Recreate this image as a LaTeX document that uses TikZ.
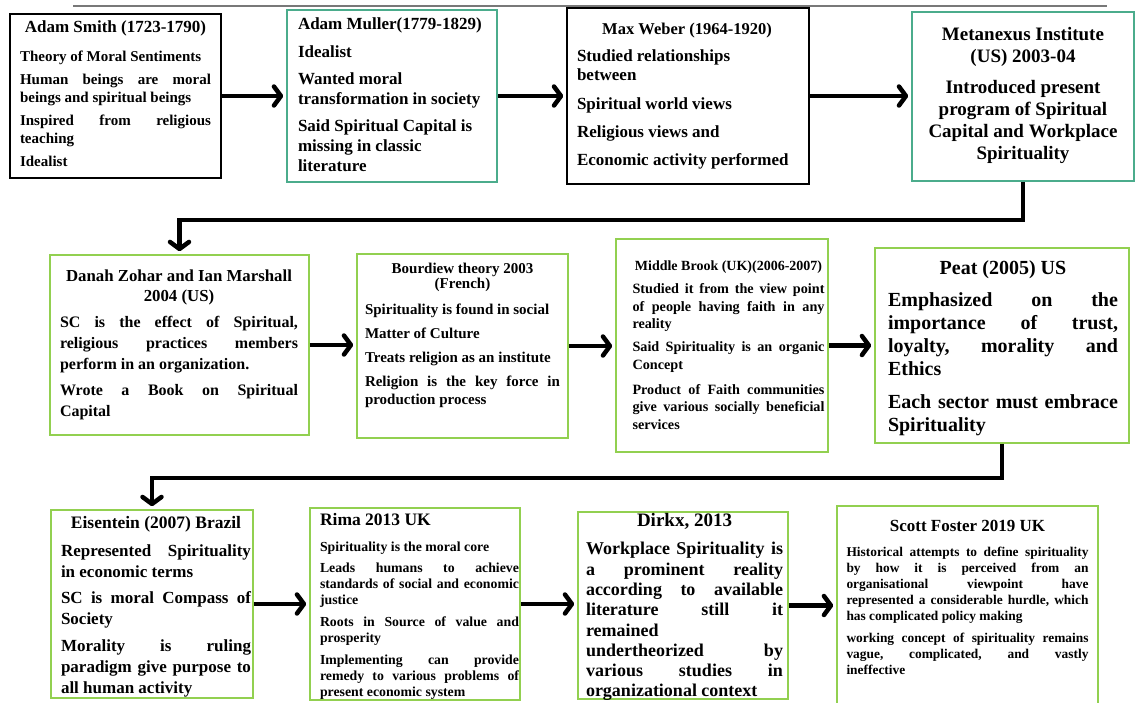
\documentclass[tikz,border=0pt]{standalone}
\usepackage{fontspec}
\setmainfont{Liberation Serif}
\usetikzlibrary{arrows.meta,fit}
\setlength\parindent{0pt}
\hyphenpenalty=10000 \exhyphenpenalty=10000 \tolerance=10000 \hbadness=10000
\definecolor{teal1}{RGB}{75,172,140}
\definecolor{green1}{RGB}{146,208,80}
\definecolor{gray1}{RGB}{120,120,120}
\newcommand\paragap[1]{\par\vspace{#1pt}}
\newcommand\juston{\leftskip=0pt\rightskip=0pt\parfillskip=0pt plus 1fil\parindent=0pt\frenchspacing\relax}
\newcommand\tb[4]{\begin{minipage}{#1}\juston\bfseries\fontsize{#2}{#3}\selectfont #4\par\end{minipage}}
\tikzset{
 boxk/.style={draw=black, line width=1.5pt, inner sep=0pt},
 boxt/.style={draw=teal1, line width=1.6pt, inner sep=0pt},
 boxg/.style={draw=green1, line width=1.6pt, inner sep=0pt},
 txt/.style={anchor=north, inner sep=0pt},
 arr/.style={line width=4.5pt, -{Straight Barb[length=7pt,width=19pt,round]}, shorten >=3pt},
}
\begin{document}
\begin{tikzpicture}[x=1pt,y=-1pt]
\useasboundingbox (0,0) rectangle (1136,702);
% stray top line
\coordinate (tl1) at (73,6);
\coordinate (tl2) at (1107,6);
\draw[gray1, line width=1.5pt] (tl1) -- (tl2);
% boxes
\node[boxk, fit={(10,14) (221,178)}] (b1) {};
\node[boxt, fit={(287,10) (497,182)}] (b2) {};
\node[boxk, fit={(567,8) (809,184)}] (b3) {};
\node[boxt, fit={(912,12) (1134,181)}] (b4) {};
\node[boxg, fit={(50,255) (309,435)}] (b5) {};
\node[boxg, fit={(357,254) (568,438)}] (b6) {};
\node[boxg, fit={(616,239) (828,452)}] (b7) {};
\node[boxg, fit={(875,248) (1129,443)}] (b8) {};
\node[boxg, fit={(51,510) (253,698)}] (b9) {};
\node[boxg, fit={(310,508) (520,700)}] (b10) {};
\node[boxg, fit={(578,512) (788,699)}] (b11) {};
\node[boxg, fit={(837,506) (1098,708)}] (b12) {};
% texts
\node[txt] (t1) at (115.5,21) {\tb{191pt}{15}{17.5}
 {{\centering\fontsize{17}{20}\selectfont Adam Smith (1723-1790)\par}\paragap{11.5}Theory of Moral Sentiments\paragap{5.5}Human beings are moral\linebreak beings and spiritual beings\paragap{6}Inspired from religious\linebreak teaching\paragap{6}Idealist}};
\node[txt] (t2) at (393,18) {\tb{190pt}{17}{20}
 {Adam Muller(1779-1829)\paragap{8}Idealist\paragap{7}Wanted moral\\ transformation in society\paragap{7}Said Spiritual Capital is\\ missing in classic\\ literature}};
\node[txt] (t3) at (687,23) {\tb{220pt}{17}{19}
 {{\centering\fontsize{16.5}{19}\selectfont Max Weber (1964-1920)\par}\paragap{8}Studied relationships\\ between\paragap{9.5}Spiritual world views\paragap{9}Religious views and\paragap{9}Economic activity performed}};
\node[txt] (t4) at (1023,27.5) {\tb{210pt}{19}{22}
 {\centering Metanexus Institute\\ (US) 2003-04\paragap{9}Introduced present\\ program of Spiritual\\ Capital and Workplace\\ Spirituality}};
\node[txt] (t5) at (179,270) {\tb{238pt}{16}{21}
 {{\centering\fontsize{16.8}{20}\selectfont Danah Zohar and Ian Marshall\\ 2004 (US)\par}\paragap{5}SC is the effect of Spiritual,\linebreak religious practices members\linebreak perform in an organization.\paragap{5}Wrote a Book on Spiritual\linebreak Capital}};
\node[txt] (t6) at (462.5,262.5) {\tb{195pt}{15}{18}
 {{\centering\fontsize{15}{15.5}\selectfont Bourdiew theory 2003\\ (French)\par}\paragap{8}Spirituality is found in social\paragap{6}Matter of Culture\paragap{6}Treats religion as an institute\paragap{6}Religion is the key force in\linebreak production process}};
\node[txt] (t7) at (728.5,261) {\tb{192pt}{14.2}{17.5}
 {{\centering\fontsize{14}{17}\selectfont Middle Brook (UK)(2006-2007)\par}\paragap{5.5}Studied it from the view point\linebreak of people having faith in any\linebreak reality\paragap{5.5}Said Spirituality is an organic\linebreak Concept\paragap{7.5}Product of Faith communities\linebreak give various socially beneficial\linebreak services}};
\node[txt] (t8) at (1003,260) {\tb{230pt}{20}{23}
 {{\centering Peat (2005) US\par}\paragap{9}Emphasized on the\linebreak importance of trust,\linebreak loyalty, morality and\linebreak Ethics\paragap{10}Each sector must embrace\linebreak Spirituality}};
\node[txt] (t9) at (156,516) {\tb{190pt}{17}{21}
 {{\centering\fontsize{17.5}{20}\selectfont Eisentein (2007) Brazil\par}\paragap{7}Represented Spirituality\linebreak in economic terms\paragap{5}SC is moral Compass of\linebreak Society\paragap{6}Morality is ruling\linebreak paradigm give purpose to\linebreak all human activity}};
\node[txt] (t10) at (419.5,513) {\tb{199pt}{13.8}{16}
 {{\fontsize{17.5}{20}\selectfont Rima 2013 UK\par}\paragap{10}Spirituality is the moral core\paragap{5}Leads humans to achieve\linebreak standards of social and economic\linebreak justice\paragap{6}Roots in Source of value and\linebreak prosperity\paragap{6}Implementing can provide\linebreak remedy to various problems of\linebreak present economic system}};
\node[txt] (t11) at (684.5,513.5) {\tb{197pt}{18}{20.3}
 {{\centering\fontsize{19}{21}\selectfont Dirkx, 2013\par}\paragap{7.7}Workplace Spirituality is\linebreak a prominent reality\linebreak according to available\linebreak literature still it\linebreak remained\\ undertheorized by\linebreak various studies in\linebreak organizational context}};
\node[txt] (t12) at (967.5,520) {\tb{242pt}{13.4}{16}
 {{\centering\fontsize{17}{20}\selectfont Scott Foster 2019 UK\par}\paragap{9}Historical attempts to define spirituality\linebreak by how it is perceived from an\linebreak organisational viewpoint have\linebreak represented a considerable hurdle, which\linebreak has complicated policy making\paragap{6}working concept of spirituality remains\linebreak vague, complicated, and vastly\linebreak ineffective}};
% connectors
\coordinate (jA) at (0,220);
\coordinate (jB) at (0,478);
\draw[arr] (b1.east) -- (b1.east -| b2.west);
\draw[arr] (b2.east) -- (b2.east -| b3.west);
\draw[arr] (b3.east) -- (b3.east -| b4.west);
\draw[arr] (b4.south) -- (b4.south |- jA) -| (b5.north);
\draw[arr] (b5.east) -- (b5.east -| b6.west);
\draw[arr] (b6.east) -- (b6.east -| b7.west);
\draw[arr] (b7.east) -- (b7.east -| b8.west);
\draw[arr] (b8.south) -- (b8.south |- jB) -| (b9.north);
\draw[arr] (b9.east) -- (b9.east -| b10.west);
\draw[arr] (b10.east) -- (b10.east -| b11.west);
\draw[arr] (b11.east) -- (b11.east -| b12.west);
\end{tikzpicture}
\end{document}
